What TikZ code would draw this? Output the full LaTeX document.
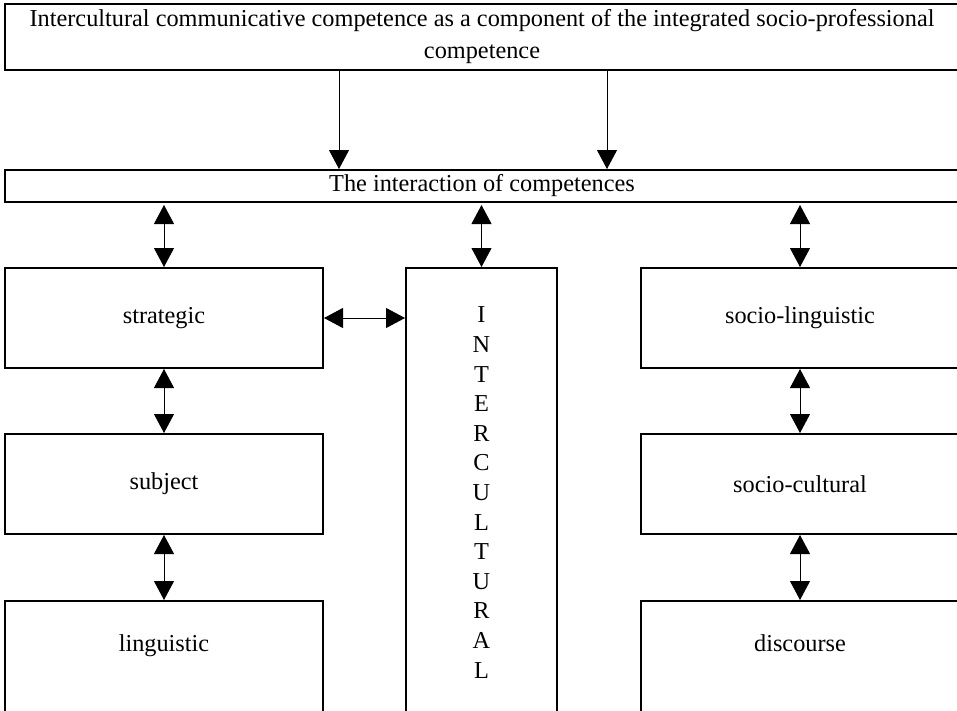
\documentclass[tikz,border=0pt]{standalone}
\usepackage{fontspec}
\setmainfont{Liberation Serif}
\usetikzlibrary{arrows.meta,positioning}

\begin{document}
\begin{tikzpicture}[x=1pt,y=-1pt,
  box/.style={draw, line width=2pt, inner sep=0pt, font=\fontsize{24.3}{32}\selectfont},
  dbl/.style={{Triangle[length=19pt,width=20pt]}-{Triangle[length=19pt,width=20pt]}, line width=0.9pt},
  down/.style={-{Triangle[length=19pt,width=20pt]}, line width=0.9pt}]
\useasboundingbox (0,0) rectangle (957,710);
\node[box, minimum width=954pt, minimum height=66pt, align=center] (comp) at (482,37) {Intercultural communicative competence as a component of the integrated socio-professional\\competence};
\node[box, minimum width=954pt, minimum height=32pt] (inter) at (482,186) {The interaction of competences};
\node[box, minimum width=318pt, minimum height=100pt] (strat) at (164,318) {strategic};
\node[box, minimum width=318pt, minimum height=100pt, below=64pt of strat] (subj) {subject};
\node[box, minimum width=318pt, minimum height=112pt, text depth=28pt, below=65pt of subj] (ling) {linguistic};
\node[box, minimum width=151pt, minimum height=449pt, align=center, font=\fontsize{24.3}{29.6}\selectfont] (icc) at (481.5,492.5) {I\\N\\T\\E\\R\\C\\U\\L\\T\\U\\R\\A\\L};
\node[box, minimum width=318pt, minimum height=100pt] (sling) at (800,318) {socio-linguistic};
\node[box, minimum width=318pt, minimum height=100pt, below=64pt of sling] (scult) {socio-cultural};
\node[box, minimum width=318pt, minimum height=112pt, text depth=28pt, below=65pt of scult] (disc) {discourse};
\coordinate (d1) at (339,0);
\coordinate (d2) at (607,0);
\draw[down] (d1 |- comp.south) -- (d1 |- inter.north);
\draw[down] (d2 |- comp.south) -- (d2 |- inter.north);
\draw[dbl, shorten <=2pt] (strat.north |- inter.south) -- (strat.north);
\draw[dbl, shorten <=2pt] (icc.north |- inter.south) -- (icc.north);
\draw[dbl, shorten <=2pt] (sling.north |- inter.south) -- (sling.north);
\draw[dbl] (strat.east) -- (strat.east -| icc.west);
\draw[dbl] (strat.south) -- (subj.north);
\draw[dbl] (subj.south) -- (ling.north);
\draw[dbl] (sling.south) -- (scult.north);
\draw[dbl] (scult.south) -- (disc.north);
\end{tikzpicture}
\end{document}
